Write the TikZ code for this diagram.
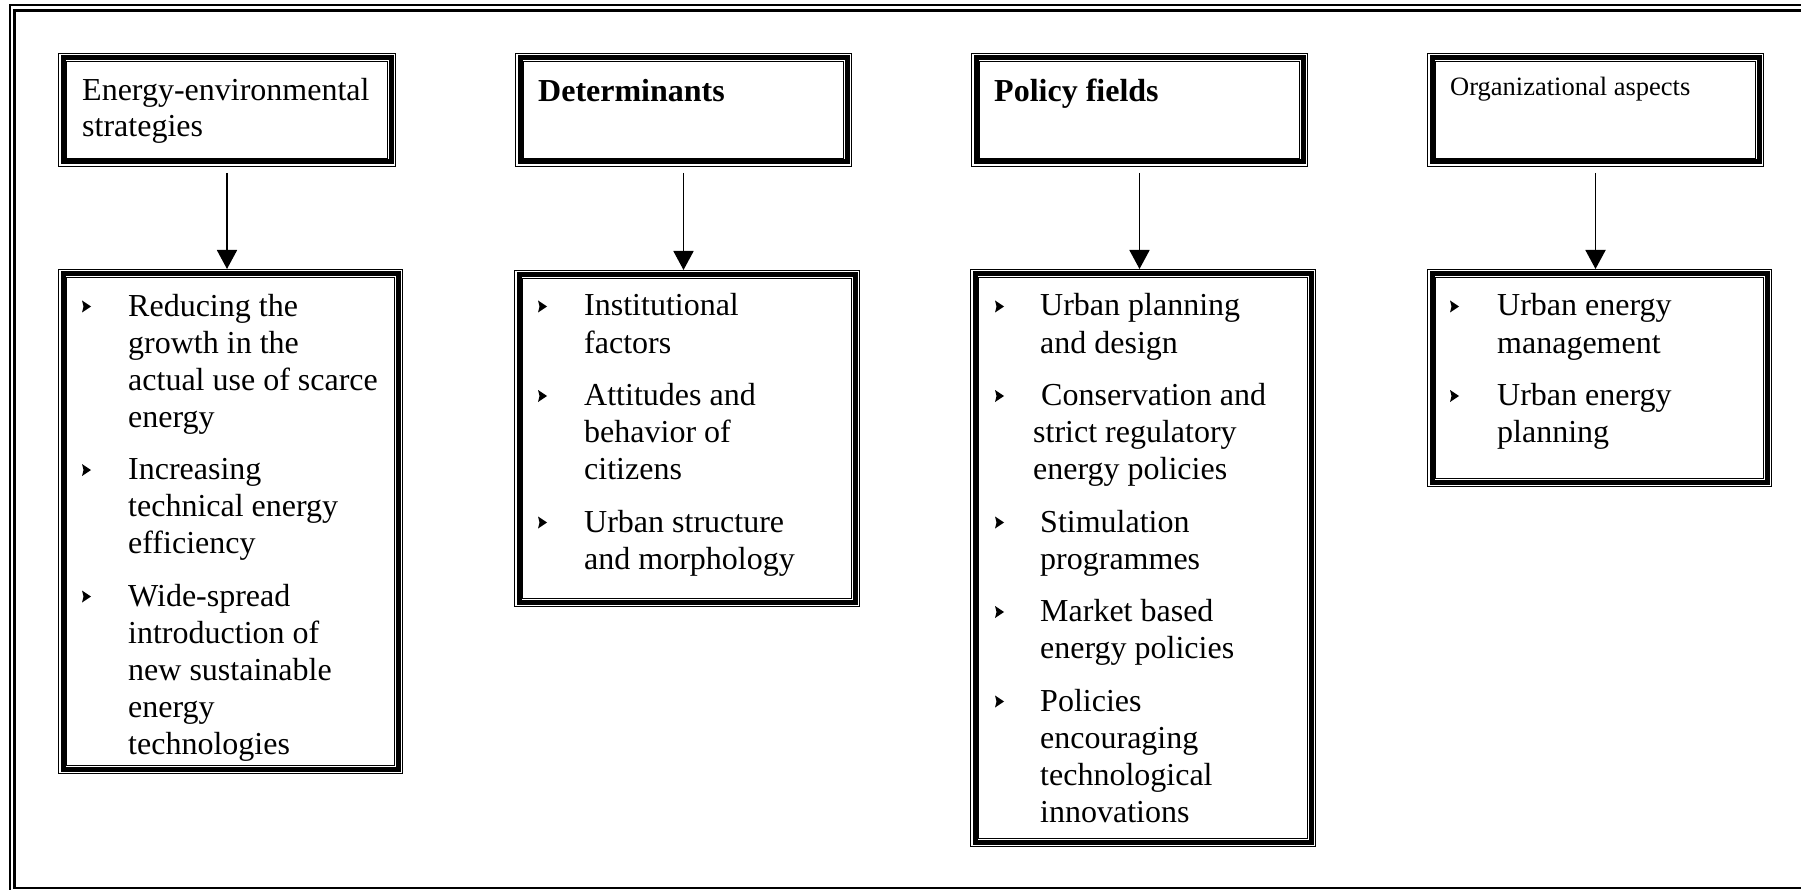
\documentclass[tikz,border=0pt]{standalone}
\usepackage{fontspec}
\setmainfont{Liberation Serif}
\usetikzlibrary{arrows.meta}

% triple-ruled box: thin outer rule, thick rule, thin inner rule
\newcommand\tribox[5]{%
  \node[tbox, minimum width={#4-#2-10}, minimum height={#5-#3-10}]
    (#1) at ({(#2+#4)/2},{(#3+#5)/2}) {};
  \draw[thinrule] ([shift={(0.5,0.5)}]#1.north west) rectangle ([shift={(-0.5,-0.5)}]#1.south east);
  \draw[thinrule] ([shift={(8.5,8.5)}]#1.north west) rectangle ([shift={(-8.5,-8.5)}]#1.south east);
}
% small arrowhead bullet, centred at (#1,#2)
\newcommand\itemmark[2]{%
  \fill (#1,#2) ++(0,-6) -- ++(9,6) -- ++(-9,6) -- ++(1.5,-6) -- cycle;
}

\begin{document}
\begin{tikzpicture}[x=1pt,y=-1pt,
  tbox/.style={draw, rectangle, line width=5pt, inner sep=0pt, outer sep=5pt},
  thinrule/.style={line width=1pt},
  % multi-line texts are placed by the baseline of their last line
  bodytext/.style={anchor=base west, inner sep=0pt, align=left, font=\fontsize{32}{37}\selectfont},
  headtext/.style={anchor=base west, inner sep=0pt, align=left, font=\fontsize{32}{36}\selectfont},
  flow/.style={line width=1.8pt, -{Triangle[width=20pt,length=19pt]}, shorten <=6pt}
]
\useasboundingbox (0,0) rectangle (1801,890);
\clip (0,0) rectangle (1801,890);
\fill[white] (0,0) rectangle (1801,890);

% page frame
\draw[line width=1.6pt] (10,5) rectangle (1850,893);
\draw[line width=2.8pt] (14.7,10.7) rectangle (1845,888);

% column headings
\tribox{h1}{58}{53}{396}{167}
\tribox{h2}{515}{53}{852}{167}
\tribox{h3}{971}{53}{1308}{167}
\tribox{h4}{1427}{53}{1764}{167}

% content boxes
\tribox{b1}{58}{269}{403}{774}
\tribox{b2}{514}{270}{860}{607}
\tribox{b3}{970}{269}{1316}{847}
\tribox{b4}{1427}{269}{1772}{487}

% connectors
\foreach \k in {1,2,3,4}
  \draw[flow] (h\k.south) -- (h\k.south |- b\k.north);

\begin{scope}[shift={(0,4)}]
\node[headtext] (h1t) at (82,133) {Energy-environmental\\strategies};
\node[headtext] (h2t) at (538,98) {\textbf{Determinants}};
\node[headtext] (h3t) at (994,98) {\textbf{Policy fields}};
\node[headtext, font=\fontsize{26.5}{30}\selectfont] (h4t) at (1450,92) {Organizational aspects};

% energy-environmental strategies
\itemmark{82}{302.5}
\node[bodytext] (b1i1) at (128,423) {Reducing the\\growth in the\\actual use of scarce\\energy};
\itemmark{82}{466}
\node[bodytext] (b1i2) at (128,549.5) {Increasing\\technical energy\\efficiency};
\itemmark{82}{592.5}
\node[bodytext] (b1i3) at (128,750) {Wide-spread\\introduction of\\new sustainable\\energy\\technologies};

% determinants
\itemmark{538}{302.5}
\node[bodytext] (b2i1) at (584,349) {Institutional\\factors};
\itemmark{538}{392}
\node[bodytext] (b2i2) at (584,475.5) {Attitudes and\\behavior of\\citizens};
\itemmark{538}{518.5}
\node[bodytext] (b2i3) at (584,565) {Urban structure\\and morphology};

% policy fields
\itemmark{995}{302.5}
\node[bodytext] (b3i1) at (1040,349) {Urban planning\\and design};
\itemmark{995}{392}
\node[bodytext] (b3i2) at (1033,475.5) {\hspace*{8pt}Conservation and\\strict regulatory\\energy policies};
\itemmark{995}{518.5}
\node[bodytext] (b3i3) at (1040,565) {Stimulation\\programmes};
\itemmark{995}{608}
\node[bodytext] (b3i4) at (1040,654.5) {Market based\\energy policies};
\itemmark{995}{697.5}
\node[bodytext] (b3i5) at (1040,818) {Policies\\encouraging\\technological\\innovations};

% organizational aspects
\itemmark{1450}{302.5}
\node[bodytext] (b4i1) at (1497,349) {Urban energy\\management};
\itemmark{1450}{392}
\node[bodytext] (b4i2) at (1497,438.5) {Urban energy\\planning};
\end{scope}
\end{tikzpicture}
\end{document}
